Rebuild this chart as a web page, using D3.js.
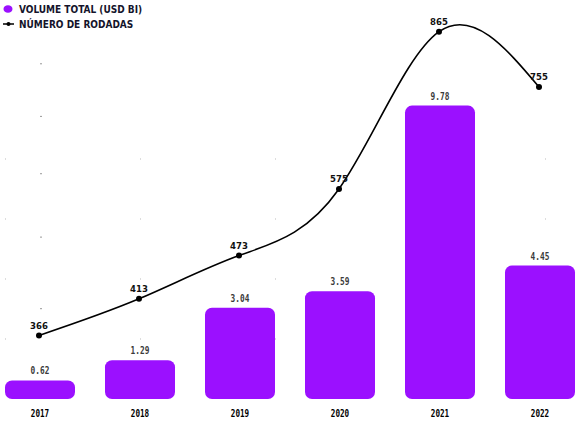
<!DOCTYPE html>
<html>
<head>
<meta charset="utf-8">
<script src="https://cdn.jsdelivr.net/npm/d3@7"></script>
<style>
  body { margin: 0; background: #fff; }
  svg { display: block; }
</style>
</head>
<body>
<svg width="579" height="426"></svg>
<script>
// dados
var years = ["2017", "2018", "2019", "2020", "2021", "2022"];
var volume = [0.62, 1.29, 3.04, 3.59, 9.78, 4.45];     // USD bi
var rounds = [366, 413, 473, 575, 865, 755];           // número de rodadas
var volumeTicks = [2, 4, 6, 8];
var roundTicks = [400, 500, 600, 700, 800];

var purple = "#9b10ff";
var condensed = "'Liberation Sans Narrow', 'DejaVu Sans Condensed', sans-serif";
var mono = "'DejaVu Sans Mono', 'Liberation Mono', monospace";

var svg = d3.select("svg");

var x = d3.scaleBand().domain(years).range([-10, 590]).paddingInner(0.3).paddingOuter(0.15);
var y = d3.scaleLinear().domain([0, 10]).range([399, 99]);
var y2 = d3.scalePow().exponent(0.4).domain([300, 900]).range([392, 15]);

// grades quase invisiveis
svg.append("g").selectAll("line").data(volumeTicks).join("line")
  .attr("x1", 5).attr("x2", 579)
  .attr("y1", function (d) { return y(d); }).attr("y2", function (d) { return y(d); })
  .attr("stroke", "#bbb").attr("stroke-width", 1)
  .attr("stroke-dasharray", "1 134");

svg.append("g").selectAll("line").data(roundTicks).join("line")
  .attr("x1", 40).attr("x2", 42)
  .attr("y1", function (d) { return y2(d); }).attr("y2", function (d) { return y2(d); })
  .attr("stroke", "#999").attr("stroke-width", 1);

// barras
svg.append("g").selectAll("rect").data(volume).join("rect")
  .attr("x", function (d, i) { return x(years[i]); })
  .attr("y", function (d) { return y(d); })
  .attr("width", x.bandwidth())
  .attr("height", function (d) { return y(0) - y(d); })
  .attr("rx", 7)
  .attr("fill", purple);

svg.append("g").selectAll("text").data(volume).join("text")
  .attr("x", function (d, i) { return x(years[i]) + x.bandwidth() / 2; })
  .attr("y", function (d) { return y(d) - 6; })
  .attr("text-anchor", "middle")
  .attr("font-family", mono).attr("font-weight", "bold").attr("font-size", "10px")
  .attr("fill", "#3a3a3a")
  .attr("textLength", function (d) { return d.toFixed(2).length * 4.7; })
  .attr("lengthAdjust", "spacingAndGlyphs")
  .text(function (d) { return d.toFixed(2); });

// eixo x
svg.append("g").selectAll("text").data(years).join("text")
  .attr("x", function (d) { return x(d) + x.bandwidth() / 2; })
  .attr("y", 416.5)
  .attr("text-anchor", "middle")
  .attr("font-family", mono).attr("font-weight", "bold").attr("font-size", "10px")
  .attr("fill", "#000")
  .attr("textLength", function (d) { return d.length * 4.6; })
  .attr("lengthAdjust", "spacingAndGlyphs")
  .text(function (d) { return d; });

// linha de rodadas
var line = d3.line()
  .x(function (d, i) { return x(years[i]) + x.bandwidth() / 2 - 1; })
  .y(function (d) { return y2(d); })
  .curve(d3.curveNatural);

svg.append("path").datum(rounds)
  .attr("d", line)
  .attr("fill", "none").attr("stroke", "#000").attr("stroke-width", 1.6);

svg.append("g").selectAll("circle").data(rounds).join("circle")
  .attr("cx", function (d, i) { return x(years[i]) + x.bandwidth() / 2 - 1; })
  .attr("cy", function (d) { return y2(d); })
  .attr("r", 3).attr("fill", "#000");

svg.append("g").selectAll("text").data(rounds).join("text")
  .attr("x", function (d, i) { return x(years[i]) + x.bandwidth() / 2 - 1; })
  .attr("y", function (d) { return y2(d) - 6.5; })
  .attr("text-anchor", "middle")
  .attr("font-family", condensed).attr("font-weight", "bold").attr("font-size", "9.5px")
  .attr("fill", "#111")
  .text(function (d) { return d; });

// legenda
var legend = svg.append("g");
legend.append("ellipse").attr("cx", 8).attr("cy", 9).attr("rx", 4.5).attr("ry", 3.8).attr("fill", purple);
legend.append("line").attr("x1", 3).attr("x2", 14).attr("y1", 24).attr("y2", 24)
  .attr("stroke", "#000").attr("stroke-width", 1.5);
legend.append("circle").attr("cx", 8.5).attr("cy", 24).attr("r", 2).attr("fill", "#000");
legend.selectAll("text").data(["VOLUME TOTAL (USD BI)", "NÚMERO DE RODADAS"]).join("text")
  .attr("x", 19).attr("y", function (d, i) { return 13 + i * 15; })
  .attr("font-family", condensed).attr("font-weight", "bold").attr("font-size", "10px")
  .attr("fill", "#14142b")
  .text(function (d) { return d; });
</script>
</body>
</html>
